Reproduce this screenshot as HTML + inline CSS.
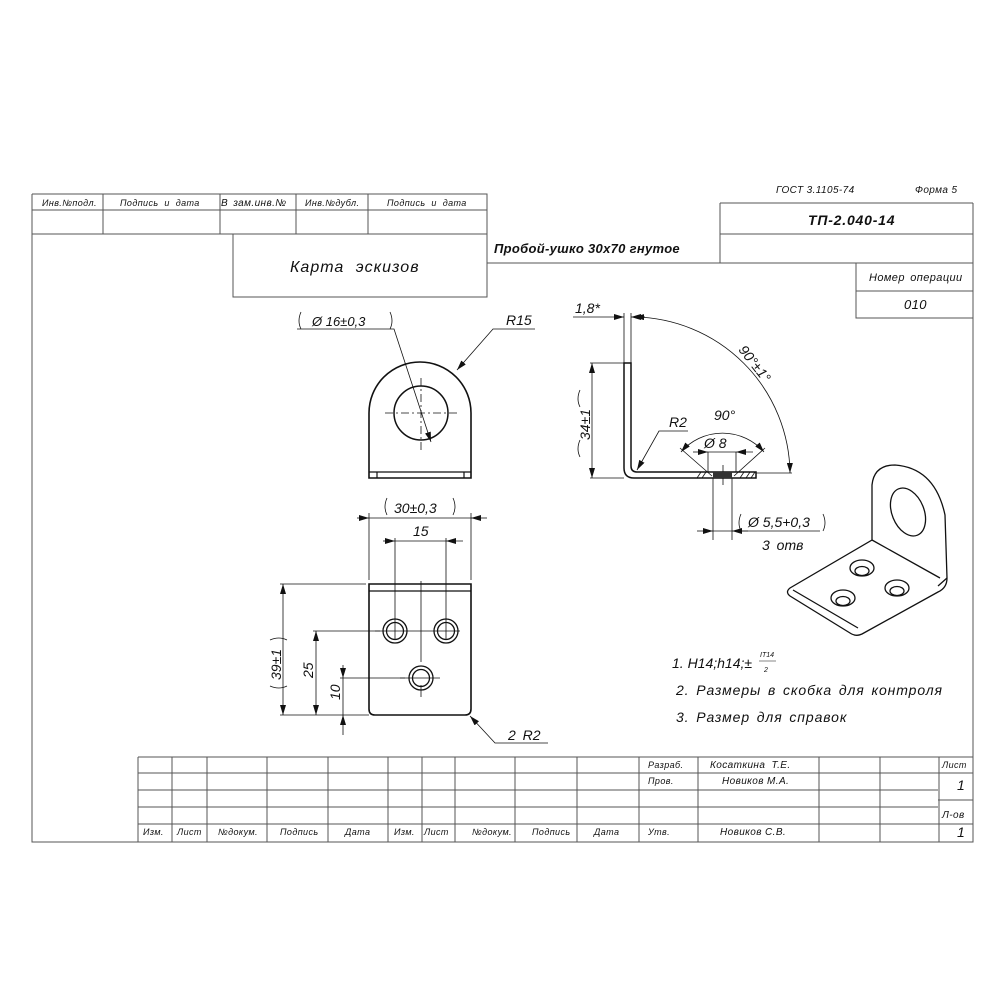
<!DOCTYPE html>
<html><head><meta charset="utf-8"><style>
html,body{margin:0;padding:0;background:#fff}
svg{display:block}
text{font-family:"Liberation Sans","DejaVu Sans",sans-serif;font-style:italic;fill:#111}
</style></head><body>
<svg width="1000" height="1000" viewBox="0 0 1000 1000" xmlns="http://www.w3.org/2000/svg">
<defs>
<marker id="a" viewBox="0 0 10 6" refX="10" refY="3" markerWidth="10" markerHeight="6" orient="auto-start-reverse" markerUnits="userSpaceOnUse"><path d="M0,0 L10,3 L0,6 z" fill="#111"/></marker>
</defs>
<g stroke="#555" stroke-width="1" fill="none">
<path d="M32,194 V842 H973 V203"/>
<path d="M32,194 H487 V234 M32,210 H487 M32,234 H487 M103,194 V234 M220,194 V234 M296,194 V234 M368,194 V234"/>
<path d="M233,234 V297 H487 V234 M487,263 H720"/>
<path d="M720,203 H973 M720,203 V263 M720,234 H973 M720,263 H973 M856,263 V318 H973 M856,291 H973"/>
<path d="M138,757 H973 M138,773 H938 M138,790 H938 M138,807 H938 M138,824 H938 M938,773 H973 M938,800 H973 M938,824 H973"/>
<path d="M138,757 V842 M172,757 V842 M207,757 V842 M267,757 V842 M328,757 V842 M388,757 V842 M422,757 V842 M455,757 V842 M515,757 V842 M577,757 V842 M639,757 V842 M698,757 V842 M819,757 V842 M880,757 V842 M939,757 V842"/>
</g>
<g font-size="9" letter-spacing="0.4">
<text x="42" y="206">Инв.№подл.</text>
<text x="120" y="206" word-spacing="3">Подпись и дата</text>
<text x="221" y="206" font-size="10" word-spacing="2">В зам.инв.№</text>
<text x="305" y="206">Инв.№дубл.</text>
<text x="387" y="206" word-spacing="3">Подпись и дата</text>
<text x="776" y="193" font-size="10">ГОСТ 3.1105-74</text>
<text x="915" y="193" font-size="10">Форма 5</text>
<text x="869" y="281" font-size="11" word-spacing="2">Номер операции</text>
<text x="904" y="309" font-size="13">010</text>
<text x="143" y="835">Изм.</text><text x="177" y="835">Лист</text><text x="218" y="835">№докум.</text><text x="280" y="835">Подпись</text><text x="345" y="835">Дата</text>
<text x="394" y="835">Изм.</text><text x="424" y="835">Лист</text><text x="472" y="835">№докум.</text><text x="532" y="835">Подпись</text><text x="594" y="835">Дата</text>
<text x="648" y="835">Утв.</text><text x="720" y="835" font-size="10">Новиков С.В.</text>
<text x="648" y="768">Разраб.</text><text x="710" y="768" font-size="10" word-spacing="3">Косаткина Т.Е.</text>
<text x="648" y="784">Пров.</text><text x="722" y="784" font-size="10">Новиков М.А.</text>
<text x="942" y="768">Лист</text><text x="942" y="818" font-size="10">Л-ов</text>
<text x="957" y="790" font-size="14">1</text><text x="957" y="837" font-size="14">1</text>
</g>
<text x="290" y="272" font-size="16" letter-spacing="1" word-spacing="6">Карта эскизов</text>
<text x="494" y="253" font-size="13" font-weight="bold" letter-spacing="0.3">Пробой-ушко 30х70 гнутое</text>
<text x="808" y="225" font-size="14" font-weight="bold" letter-spacing="0.8">ТП-2.040-14</text>

<g stroke="#111" fill="none">
<path d="M369,478 V413 A51,51 0 0 1 471,413 V478 Z" stroke-width="1.6"/>
<path d="M369,472 H471 M377,472 V478 M464,472 V478" stroke-width="1.2"/>
<circle cx="421" cy="413" r="27" stroke-width="1.5"/>
<path d="M385,413 H458 M421,378 V450" stroke-width="0.8" stroke-dasharray="8,3,2,3"/>
<path d="M297,329 H394 L431,442" stroke-width="0.8" marker-end="url(#a)"/>
<path d="M535,329 H493 L457,370" stroke-width="0.8" marker-end="url(#a)"/>
<path d="M301,312 q-4,9 0,17 M390,312 q4,9 0,17" stroke-width="0.8"/>
</g>
<text x="312" y="326" font-size="13">Ø 16±0,3</text>
<text x="506" y="325" font-size="14">R15</text>

<g stroke="#111" fill="none">
<path d="M369,584 H471 V709 Q471,715 465,715 H375 Q369,715 369,709 Z" stroke-width="1.6"/>
<path d="M369,591 H471" stroke-width="1.2"/>
<circle cx="395" cy="631" r="12" stroke-width="1.3"/><circle cx="395" cy="631" r="8.5" stroke-width="1.3"/>
<circle cx="446" cy="631" r="12" stroke-width="1.3"/><circle cx="446" cy="631" r="8.5" stroke-width="1.3"/>
<circle cx="421" cy="678" r="12" stroke-width="1.3"/><circle cx="421" cy="678" r="8.5" stroke-width="1.3"/>
<g stroke-width="0.8">
<path d="M395,538 V640 M446,538 V640 M421,581 V662 M375,631 H460 M400,678 H440 M421,685 V697"/>
<path d="M369,513 V580 M471,513 V580"/>
<path d="M357,518 H369" marker-end="url(#a)"/><path d="M487,518 H471" marker-end="url(#a)"/><path d="M369,518 H471"/>
<path d="M383,541 H395" marker-end="url(#a)"/><path d="M463,541 H446" marker-end="url(#a)"/><path d="M395,541 H446"/>
<path d="M283,584 V715" marker-start="url(#a)" marker-end="url(#a)"/>
<path d="M280,584 H366 M280,715 H369"/>
<path d="M316,631 V715" marker-start="url(#a)" marker-end="url(#a)"/>
<path d="M313,631 H380"/>
<path d="M343,665 V678" marker-end="url(#a)"/><path d="M343,735 V715" marker-end="url(#a)"/><path d="M343,678 V715 M340,678 H405"/>
<path d="M470,716 L495,743 H548" marker-start="url(#a)"/>
<path d="M387,498 q-4,9 0,17 M453,498 q4,9 0,17" />
<path d="M270,640 q9,-4 17,0 M270,686 q9,4 17,0" />
</g>
</g>
<text x="394" y="513" font-size="14">30±0,3</text>
<text x="413" y="536" font-size="14">15</text>
<text transform="translate(281,680) rotate(-90)" font-size="14">39±1</text>
<text transform="translate(313,678) rotate(-90)" font-size="14">25</text>
<text transform="translate(340,700) rotate(-90)" font-size="14">10</text>
<text x="508" y="740" font-size="14" word-spacing="3">2 R2</text>

<g stroke="#111" fill="none">
<path d="M624,363 V468 Q624,478 634,478 H756 V472 H637 Q631,472 631,466 V363 Z" stroke-width="1.5"/>
<g stroke-width="0.8">
<path d="M624,313 V363 M631,313 V363"/>
<path d="M573,317 H624" marker-end="url(#a)"/><path d="M645,317 H631" marker-end="url(#a)"/>
<path d="M634,317 A158,158 0 0 1 790,473" marker-start="url(#a)" marker-end="url(#a)"/>
<path d="M756,473 H792"/>
<path d="M592,363 V478" marker-start="url(#a)" marker-end="url(#a)"/>
<path d="M590,363 H624 M590,478 H624"/>
<path d="M688,431 H659 L637,470" marker-end="url(#a)"/>
<path d="M681,452 A55,55 0 0 1 764,452" marker-start="url(#a)" marker-end="url(#a)"/>
<path d="M680,448 L712,476 M765,448 L734,476"/>
<path d="M708,452 V472 M736,452 V472"/>
<path d="M693,452 H708" marker-end="url(#a)"/><path d="M753,452 H736" marker-end="url(#a)"/><path d="M708,452 H736"/>
<path d="M713,478 V540 M732,478 V540 M723,465 V485"/>
<path d="M697,531 H713" marker-end="url(#a)"/><path d="M748,531 H732" marker-end="url(#a)"/><path d="M713,531 H820"/>
<path d="M697,478 l4,-6 M702,478 l4,-6 M740,478 l4,-6 M746,478 l4,-6 M751,478 l4,-6"/>
<path d="M580,390 q-4,9 0,17 M580,440 q-4,9 0,17"/>
<path d="M741,514 q-4,9 0,17 M823,514 q4,9 0,17"/>
</g>
<rect x="713" y="472" width="19" height="6" fill="#333" stroke="none"/>
</g>
<text x="575" y="313" font-size="14">1,8*</text>
<text transform="translate(738,350) rotate(52)" font-size="14">90°±1°</text>
<text transform="translate(590,440) rotate(-90)" font-size="14">34±1</text>
<text x="669" y="427" font-size="14">R2</text>
<text x="714" y="420" font-size="14">90°</text>
<text x="704" y="448" font-size="14">Ø 8</text>
<text x="748" y="527" font-size="14">Ø 5,5+0,3</text>
<text x="762" y="550" font-size="14" word-spacing="3">3 отв</text>

<g stroke="#111" fill="none" stroke-width="1.3">
<path d="M872,540 V485 Q874,465 895,465 Q935,468 945,515 L947,578 Q947,588 938,592 L862,634 Q856,637 850,633 L790,596 Q785,592 790,588 Z"/>
<path d="M872,540 L940,578 M947,578 L938,586 M858,628 L793,590"/>
<ellipse cx="908" cy="512" rx="16" ry="25" transform="rotate(-22 908 512)"/>
<ellipse cx="862" cy="568" rx="12" ry="8"/><ellipse cx="862" cy="571" rx="7" ry="4.5"/>
<ellipse cx="843" cy="598" rx="12" ry="8"/><ellipse cx="843" cy="601" rx="7" ry="4.5"/>
<ellipse cx="897" cy="588" rx="12" ry="8"/><ellipse cx="897" cy="591" rx="7" ry="4.5"/>
</g>

<text x="672" y="668" font-size="14">1. H14;h14;±</text>
<text x="760" y="657" font-size="7">IT14</text>
<text x="764" y="672" font-size="7">2</text>
<path d="M759,661 H776" stroke="#111" stroke-width="0.6"/>
<text x="676" y="695" font-size="14" letter-spacing="0.9" word-spacing="2">2. Размеры в скобка для контроля</text>
<text x="676" y="722" font-size="14" letter-spacing="0.9" word-spacing="2">3. Размер для справок</text>
</svg>
</body></html>
